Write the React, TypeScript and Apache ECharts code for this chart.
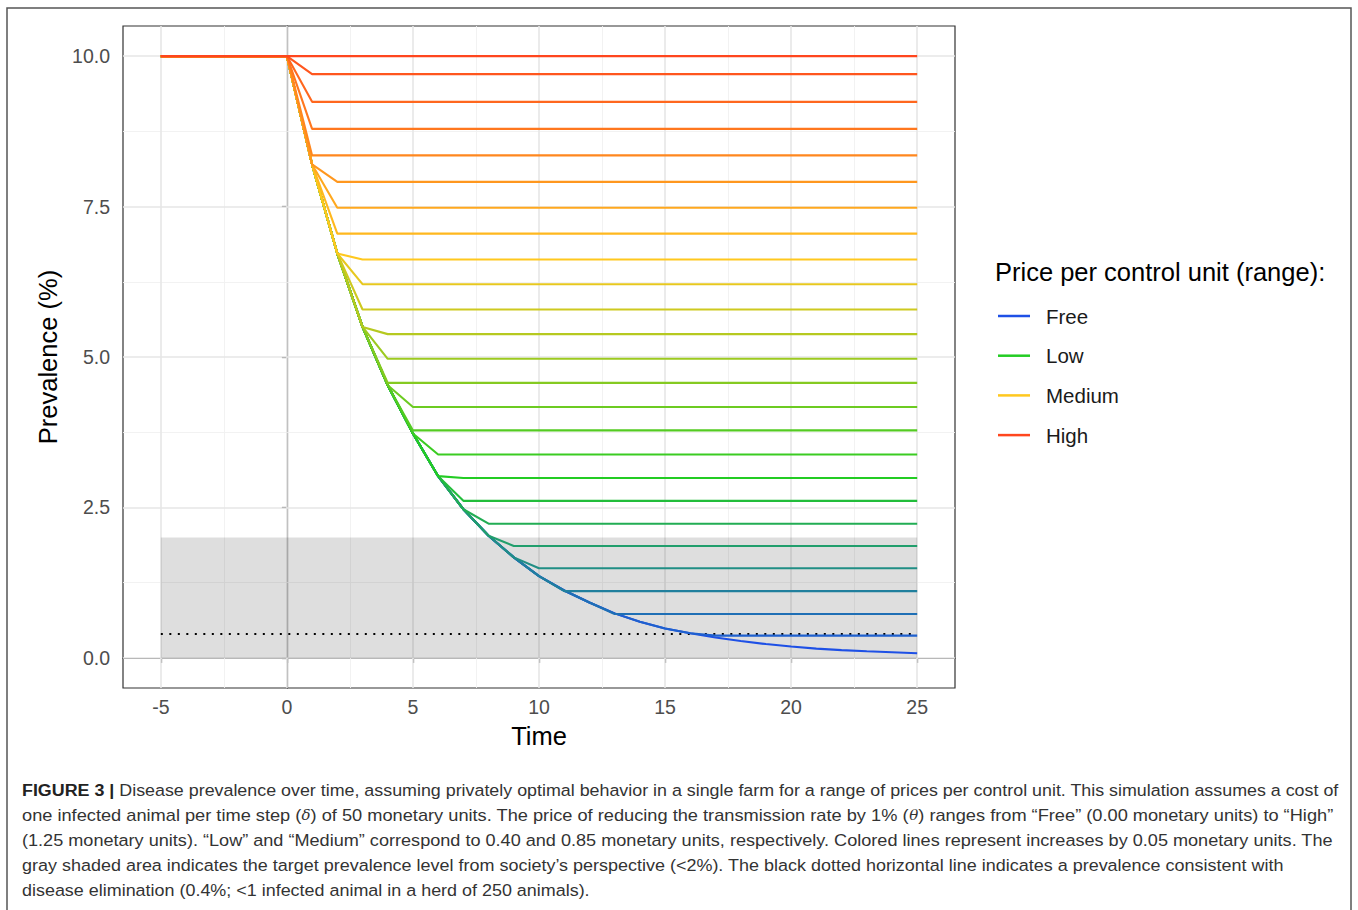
import React, { useEffect, useRef } from "react";
import * as echarts from "echarts";

const FONT = '"Liberation Sans", Arial, Helvetica, sans-serif';

const timeStart = -5;
const timeEnd = 25;
const initialPrevalence = 10.0;

// Prevalence (%) when control is free, for t = 0..25
const freePath = [
  10.0, 8.2, 6.72, 5.5, 4.53, 3.73, 3.02, 2.47, 2.03, 1.67, 1.36, 1.12, 0.92,
  0.74, 0.6, 0.49, 0.41, 0.34, 0.28, 0.23, 0.19, 0.155, 0.13, 0.11, 0.095, 0.078,
];

// Priced runs: price per control unit, the step where control stops, and the plateau reached
const prices = [
  1.25, 1.2, 1.15, 1.1, 1.05, 1.0, 0.95, 0.9, 0.85, 0.8, 0.75, 0.7, 0.65, 0.6,
  0.55, 0.5, 0.45, 0.4, 0.35, 0.3, 0.25, 0.2, 0.15, 0.1, 0.05,
];
const stopStep = [0, 1, 1, 1, 1, 2, 2, 2, 3, 3, 3, 4, 4, 4, 5, 5, 6, 7, 7, 8, 9, 10, 11, 13, 17];
const plateau = [
  10.0, 9.7, 9.24, 8.79, 8.35, 7.91, 7.48, 7.05, 6.62, 6.21, 5.79, 5.38, 4.97,
  4.57, 4.17, 3.78, 3.38, 2.99, 2.61, 2.23, 1.86, 1.49, 1.11, 0.73, 0.37,
];

const legendNames = ["Free", "Low", "Medium", "High"];
const legendPrices = [0.0, 0.4, 0.85, 1.25];
const legendColors = ["#1E50E6", "#23CC23", "#FFC81E", "#FF461E"];

const xTicks = [-5, 0, 5, 10, 15, 20, 25];
const xMinor = [-2.5, 2.5, 7.5, 12.5, 17.5, 22.5];
const yTicks = [0, 2.5, 5, 7.5, 10];
const yMinor = [1.25, 3.75, 6.25, 8.75];

const targetBand = [0, 2];
const eliminationLevel = 0.4;

const captionLines = [
  "{b|FIGURE 3 |} Disease prevalence over time, assuming privately optimal behavior in a single farm for a range of prices per control unit. This simulation assumes a cost of",
  "one infected animal per time step ({i|δ}) of 50 monetary units. The price of reducing the transmission rate by 1% ({i|θ}) ranges from “Free” (0.00 monetary units) to “High”",
  "(1.25 monetary units). “Low” and “Medium” correspond to 0.40 and 0.85 monetary units, respectively. Colored lines represent increases by 0.05 monetary units. The",
  "gray shaded area indicates the target prevalence level from society’s perspective (<2%). The black dotted horizontal line indicates a prevalence consistent with",
  "disease elimination (0.4%; <1 infected animal in a herd of 250 animals).",
];
// caption column: left edge and the right edge each line reaches
const captionLeft = 22;
const captionRight = [1340, 1333, 1334, 1285, 590];

function hexToRgb(h: string) {
  const n = parseInt(h.slice(1), 16);
  return [(n >> 16) & 255, (n >> 8) & 255, n & 255];
}

function colorForPrice(p: number) {
  let i = 0;
  while (i < legendPrices.length - 2 && p > legendPrices[i + 1]) i++;
  const f = (p - legendPrices[i]) / (legendPrices[i + 1] - legendPrices[i]);
  const a = hexToRgb(legendColors[i]);
  const b = hexToRgb(legendColors[i + 1]);
  const c = a.map((v, k) => Math.round(v + (b[k] - v) * f));
  return `rgb(${c[0]},${c[1]},${c[2]})`;
}

function pricedPath(k: number, level: number) {
  const pts: number[][] = [
    [timeStart, initialPrevalence],
    [0, initialPrevalence],
  ];
  if (k === 0) {
    pts.push([timeEnd, level]);
    return pts;
  }
  for (let t = 1; t < k; t++) pts.push([t, freePath[t]]);
  pts.push([k, level]);
  pts.push([timeEnd, level]);
  return pts;
}

// horizontal squeeze per caption line so each one spans its column width
function captionScales() {
  const ctx = document.createElement("canvas").getContext("2d");
  return captionLines.map((line, i) => {
    if (!ctx) return 0.98;
    let w = 0;
    const re = /\{(\w)\|([^}]*)\}|([^{]+)/g;
    let m: RegExpExecArray | null;
    while ((m = re.exec(line))) {
      if (m[1] === "b") {
        ctx.font = `bold 17px ${FONT}`;
        w += ctx.measureText(m[2]).width;
      } else if (m[1] === "i") {
        ctx.font = `italic 14px "DejaVu Serif", serif`;
        w += ctx.measureText(m[2]).width;
      } else {
        ctx.font = `17px ${FONT}`;
        w += ctx.measureText(m[3]).width;
      }
    }
    return (captionRight[i] - captionLeft) / w;
  });
}

export default function App() {
  const ref = useRef<HTMLDivElement>(null);

  useEffect(() => {
    if (!ref.current) return;
    const chart = echarts.init(ref.current, null, { renderer: "svg" });

    const gridSeries: any = {
      type: "line",
      data: [],
      z: 1,
      silent: true,
      markLine: {
        z: 1,
        silent: true,
        symbol: ["none", "none"],
        label: { show: false },
        data: [
          ...xMinor.map((v) => ({ xAxis: v, lineStyle: { color: "#f0f0f0", width: 0.9, type: "solid" } })),
          ...yMinor.map((v) => ({ yAxis: v, lineStyle: { color: "#f0f0f0", width: 0.9, type: "solid" } })),
          ...xTicks.map((v) => ({ xAxis: v, lineStyle: { color: "#e6e6e6", width: 1.6, type: "solid" } })),
          ...yTicks.map((v) => ({ yAxis: v, lineStyle: { color: "#e6e6e6", width: 1.6, type: "solid" } })),
        ],
      },
    };

    const bandSeries: any = {
      type: "line",
      data: [],
      z: 2,
      silent: true,
      markArea: {
        z: 2,
        silent: true,
        itemStyle: { color: "rgba(0,0,0,0.13)" },
        data: [[{ coord: [timeStart, targetBand[0]] }, { coord: [timeEnd, targetBand[1]] }]],
      },
      markLine: {
        z: 2,
        silent: true,
        symbol: ["none", "none"],
        label: { show: false },
        lineStyle: { color: "#000", width: 2, type: [2, 6.5], cap: "butt" },
        data: [[{ coord: [timeStart, eliminationLevel] }, { coord: [timeEnd, eliminationLevel] }]],
      },
    };

    const freeSeries = {
      type: "line",
      name: "price 0.00",
      data: [[timeStart, initialPrevalence], ...freePath.map((v, t) => [t, v])],
      showSymbol: false,
      symbol: "none",
      z: 3,
      color: colorForPrice(0),
      lineStyle: { width: 2.1, color: colorForPrice(0) },
    };

    // cheaper runs first, so the pricier ones sit on top where paths coincide
    const pricedSeries = prices
      .map((p, j) => ({
        type: "line",
        name: `price ${p.toFixed(2)}`,
        data: pricedPath(stopStep[j], plateau[j]),
        showSymbol: false,
        symbol: "none",
        z: 3,
        color: colorForPrice(p),
        lineStyle: { width: 2.1, color: colorForPrice(p) },
      }))
      .reverse();

    const legendSeries = legendNames.map((n, i) => ({
      type: "line",
      name: n,
      data: [],
      color: legendColors[i],
      lineStyle: { color: legendColors[i] },
    }));

    const scales = captionScales();

    chart.setOption({
      animation: false,
      backgroundColor: "#ffffff",
      grid: {
        left: 123,
        top: 26,
        width: 832,
        height: 662,
        show: true,
        borderColor: "#333333",
        borderWidth: 1.2,
        backgroundColor: "#ffffff",
        containLabel: false,
      },
      xAxis: {
        type: "value",
        min: -6.5,
        max: 26.5,
        splitLine: { show: false },
        axisLine: { show: true, lineStyle: { color: "#333333", width: 1.2 } },
        axisTick: { show: true, customValues: xTicks, length: 5, lineStyle: { color: "#333333", width: 1.2 } },
        axisLabel: {
          customValues: xTicks,
          margin: 9,
          color: "#4d4d4d",
          fontSize: 19.5,
          fontFamily: FONT,
          formatter: (v: number) => String(v),
        },
        name: "Time",
        nameLocation: "middle",
        nameGap: 35,
        nameTextStyle: { fontSize: 25.5, color: "#000", fontFamily: FONT },
      },
      yAxis: {
        type: "value",
        min: -0.5,
        max: 10.5,
        splitLine: { show: false },
        axisLine: { show: true, lineStyle: { color: "#333333", width: 1.2 } },
        axisTick: { show: true, customValues: yTicks, length: 5, lineStyle: { color: "#333333", width: 1.2 } },
        axisLabel: {
          customValues: yTicks,
          margin: 13,
          color: "#4d4d4d",
          fontSize: 19.5,
          fontFamily: FONT,
          formatter: (v: number) => v.toFixed(1),
        },
        name: "Prevalence (%)",
        nameLocation: "middle",
        nameGap: 58,
        nameTextStyle: { fontSize: 25.5, color: "#000", fontFamily: FONT },
      },
      legend: {
        data: legendNames,
        orient: "vertical",
        left: 998,
        top: 305,
        padding: 0,
        icon: "rect",
        itemWidth: 32,
        itemHeight: 2.5,
        itemGap: 17.7,
        selectedMode: false,
        textStyle: { fontSize: 20.5, color: "#1a1a1a", fontFamily: FONT, lineHeight: 22, padding: [0, 0, 0, 11] },
      },
      graphic: [
        {
          type: "rect",
          shape: { x: 7, y: 8, width: 1344, height: 920 },
          style: { fill: "none", stroke: "#555555", lineWidth: 1.5 },
          silent: true,
        },
        {
          type: "text",
          x: 995,
          y: 272,
          style: {
            text: "Price per control unit (range):",
            fontSize: 25.5,
            fontFamily: FONT,
            fill: "#000",
            verticalAlign: "middle",
          },
        },
        ...captionLines.map((line, i) => ({
          type: "text",
          x: captionLeft,
          y: 790 + i * 25,
          scaleX: scales[i],
          style: {
            text: line,
            fontSize: 17,
            fontFamily: FONT,
            fill: "#333333",
            verticalAlign: "middle",
            rich: {
              b: { fontSize: 17, fontFamily: FONT, fontWeight: "bold", fill: "#222222" },
              i: { fontSize: 14, fontFamily: '"DejaVu Serif", serif', fontStyle: "italic", fill: "#333333" },
            },
          },
        })),
      ],
      series: [gridSeries, bandSeries, freeSeries, ...pricedSeries, ...legendSeries],
    });

    return () => chart.dispose();
  }, []);

  return (
    <div
      ref={ref}
      style={{ position: "absolute", left: 0, top: 0, width: 1358, height: 910, background: "#fff" }}
    />
  );
}
